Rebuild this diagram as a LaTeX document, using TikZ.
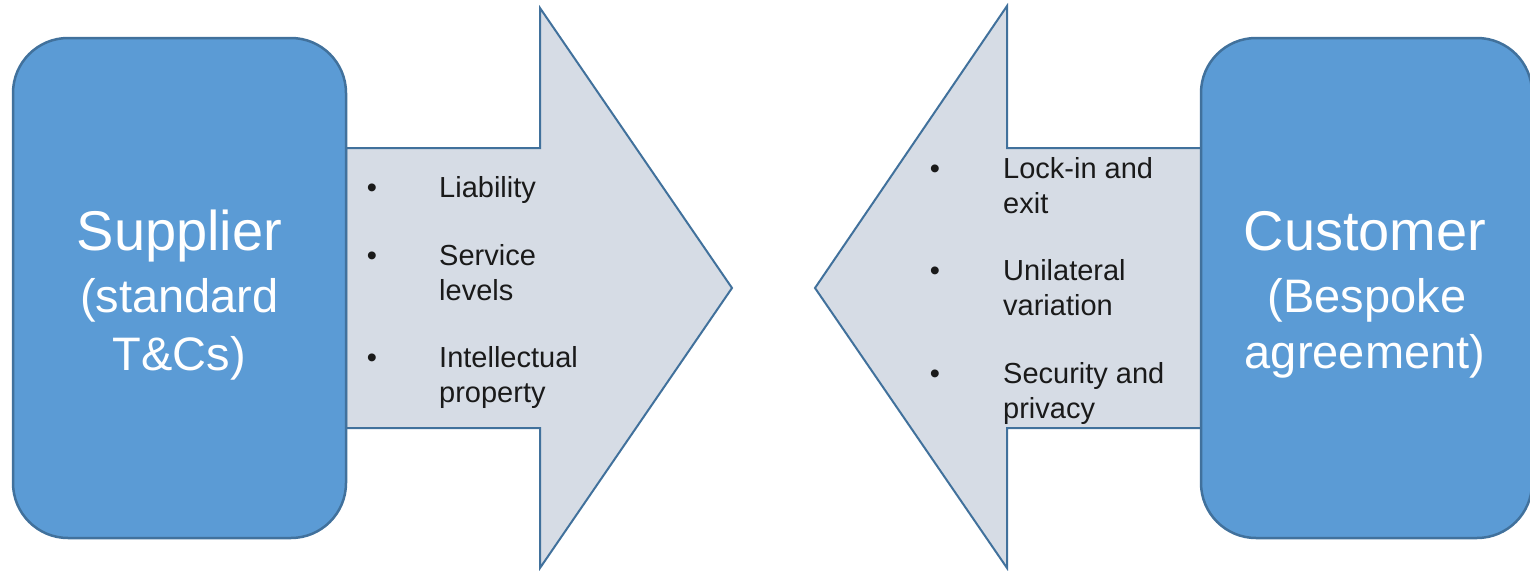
\documentclass[tikz,border=0pt]{standalone}
\usepackage{fontspec}
\setmainfont{Liberation Sans}
\definecolor{boxfill}{HTML}{5B9BD5}
\definecolor{boxline}{HTML}{41719C}
\definecolor{arrowfill}{HTML}{D6DCE5}
\definecolor{ink}{HTML}{1A1A1A}
\begin{document}
\begin{tikzpicture}[x=1pt,y=-1pt,
  party/.style={draw=boxline, fill=boxfill, line width=2.5pt, rounded corners=55pt, inner sep=0pt},
  bigarrow/.style={draw=boxline, fill=arrowfill, line width=2pt, line join=miter},
  title/.style={text=white, font=\fontsize{56}{60}\selectfont, anchor=base, inner sep=0pt},
  subtitle/.style={text=white, font=\fontsize{47}{56}\selectfont, anchor=base, inner sep=0pt},
  item/.style={text=ink, font=\fontsize{29}{35}\selectfont, anchor=base west, inner sep=0pt},
  dot/.style={text=ink, font=\fontsize{29}{35}\selectfont, anchor=base, inner sep=0pt}]
\useasboundingbox (0,0) rectangle (1530,570);

% block arrows pointing towards the middle
\draw[bigarrow] (346,148) -- (540,148) -- (540,8) -- (732,288) -- (540,568) -- (540,428) -- (346,428) -- cycle;
\draw[bigarrow] (1201,148) -- (1007,148) -- (1007,6) -- (815,288) -- (1007,568) -- (1007,428) -- (1201,428) -- cycle;

% the two parties
\node[party, minimum width=333pt, minimum height=500pt] (supplier) at (179.5,288) {};
\node[party, minimum width=331pt, minimum height=500pt] (customer) at (1366.5,288) {};

\node[title] (sup1) at (179.5,250) {Supplier};
\node[subtitle] (sup2) at (179.5,312) {(standard};
\node[subtitle] (sup3) at (179.5,370) {T\&Cs)};

\node[title] (cus1) at (1365,250) {Customer};
\node[subtitle] (cus2) at (1367,312) {(Bespoke};
\node[subtitle] (cus3) at (1365,368) {agreement)};

% supplier side issues
\node[dot] (lb1) at (372,197) {•};
\node[item] (li1) at (439,197) {Liability};
\node[dot] (lb2) at (372,265) {•};
\node[item] (li2) at (439,265) {Service};
\node[item] (li2b) at (439,300) {levels};
\node[dot] (lb3) at (372,367) {•};
\node[item] (li3) at (439,367) {Intellectual};
\node[item] (li3b) at (439,402) {property};

% customer side issues
\node[dot] (rb1) at (935,178) {•};
\node[item] (ri1) at (1003,178) {Lock-in and};
\node[item] (ri1b) at (1003,213) {exit};
\node[dot] (rb2) at (935,280) {•};
\node[item] (ri2) at (1003,280) {Unilateral};
\node[item] (ri2b) at (1003,315) {variation};
\node[dot] (rb3) at (935,383) {•};
\node[item] (ri3) at (1003,383) {Security and};
\node[item] (ri3b) at (1003,418) {privacy};
\end{tikzpicture}
\end{document}
